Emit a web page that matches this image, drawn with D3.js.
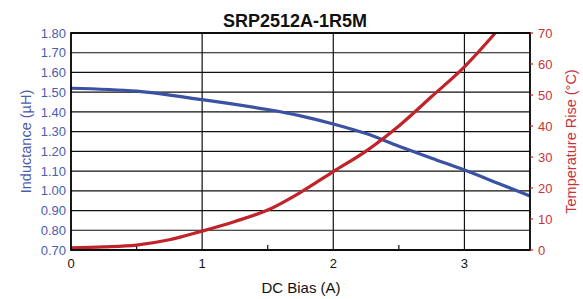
<!DOCTYPE html>
<html><head><meta charset="utf-8">
<script src="https://cdn.jsdelivr.net/npm/d3@7"></script>
<style>body{margin:0;background:#fff}svg{display:block}</style>
</head><body>
<script>
const title = "SRP2512A-1R5M";
const biasL = [0, 0.5, 1, 1.5, 1.75, 2, 2.25, 2.5, 2.75, 3, 3.25, 3.5];
const inductance = [1.52, 1.505, 1.462, 1.412, 1.38, 1.339, 1.29, 1.226, 1.165, 1.105, 1.04, 0.974];
const biasT = [0, 0.25, 0.5, 0.75, 1, 1.25, 1.5, 1.75, 2, 2.25, 2.5, 2.75, 3, 3.235];
const tempRise = [0.7, 1.0, 1.6, 3.3, 6.1, 9.2, 12.9, 18.6, 25.3, 31.9, 40.0, 49.5, 59.1, 70];
const xTicks = [0, 1, 2, 3];
const xMinor = [0.5, 1.5, 2.5];
const lTicks = [0.7,0.8,0.9,1.0,1.1,1.2,1.3,1.4,1.5,1.6,1.7,1.8];
const rTicks = [0,10,20,30,40,50,60,70];

const W = 583, H = 299;
const m = {l:71, r:530, t:33, b:250};
const font = "'Liberation Sans Narrow','Arial Narrow',Arial,sans-serif";
const blue = "#3b51a3", red = "#c1232b";
const blueTxt = "#4b5dad", redTxt = "#c8333a";

const svg = d3.select("body").append("svg").attr("width", W).attr("height", H);
const x = d3.scaleLinear().domain([0, 3.5]).range([m.l, m.r]);
const yL = d3.scaleLinear().domain([0.7, 1.8]).range([m.b, m.t]);
const yR = d3.scaleLinear().domain([0, 70]).range([m.b, m.t]);

svg.append("defs").append("clipPath").attr("id","clip")
  .append("rect").attr("x", m.l).attr("y", m.t).attr("width", m.r-m.l).attr("height", m.b-m.t);

// horizontal grid
svg.append("g").selectAll("line").data(lTicks).join("line")
  .attr("x1", m.l).attr("x2", m.r).attr("y1", d=>yL(d)).attr("y2", d=>yL(d))
  .attr("stroke", "#111").attr("stroke-width", 1.2);
// vertical grid
svg.append("g").selectAll("line").data(xTicks.slice(1)).join("line")
  .attr("x1", d=>x(d)).attr("x2", d=>x(d)).attr("y1", m.t).attr("y2", m.b)
  .attr("stroke", "#111").attr("stroke-width", 1.2);
// minor ticks
svg.append("g").selectAll("line").data(xMinor).join("line")
  .attr("x1", d=>x(d)).attr("x2", d=>x(d)).attr("y1", m.b).attr("y2", m.b-5)
  .attr("stroke", "#111").attr("stroke-width", 1.2);

// lines
const gl = svg.append("g").attr("clip-path","url(#clip)");
gl.append("path").datum(biasL.map((b,i)=>[b, inductance[i]]))
  .attr("fill","none").attr("stroke", blue).attr("stroke-width", 3.2)
  .attr("d", d3.line().x(d=>x(d[0])).y(d=>yL(d[1])).curve(d3.curveCatmullRom.alpha(0.5)));
gl.append("path").datum(biasT.map((b,i)=>[b, tempRise[i]]))
  .attr("fill","none").attr("stroke", red).attr("stroke-width", 3.2)
  .attr("d", d3.line().x(d=>x(d[0])).y(d=>yR(d[1])).curve(d3.curveCatmullRom.alpha(0.5)));

// frame
svg.append("rect").attr("x", m.l).attr("y", m.t).attr("width", m.r-m.l).attr("height", m.b-m.t)
  .attr("fill","none").attr("stroke","#000").attr("stroke-width", 1.8);

// left labels
svg.append("g").selectAll("text").data(lTicks).join("text")
  .attr("x", 66).attr("y", d=>yL(d)).attr("dy","0.36em").attr("text-anchor","end")
  .attr("fill", blueTxt).attr("font-family", font).attr("font-size", 13)
  .text(d=>d.toFixed(2));
// right ticks and labels
svg.append("g").selectAll("line").data(rTicks).join("line")
  .attr("x1", m.r).attr("x2", m.r+3).attr("y1", d=>yR(d)).attr("y2", d=>yR(d))
  .attr("stroke", red).attr("stroke-width", 1.2);
svg.append("g").selectAll("text").data(rTicks).join("text")
  .attr("x", 538).attr("y", d=>yR(d)).attr("dy","0.36em").attr("text-anchor","start")
  .attr("fill", redTxt).attr("font-family", font).attr("font-size", 13)
  .text(d=>d);
// x labels
svg.append("g").selectAll("text").data(xTicks).join("text")
  .attr("x", d=>x(d)).attr("y", 268).attr("text-anchor","middle")
  .attr("fill", "#111").attr("font-family", font).attr("font-size", 13)
  .text(d=>d);

svg.append("text").attr("x", 301).attr("y", 293).attr("text-anchor","middle")
  .attr("fill","#111").attr("font-family", font).attr("font-size", 15).text("DC Bias (A)");
svg.append("text").attr("x", 295).attr("y", 27).attr("text-anchor","middle")
  .attr("fill","#111").attr("font-family", font).attr("font-size", 18).attr("font-weight","bold").text(title);
svg.append("text").attr("transform", `translate(31,${(m.t+m.b)/2}) rotate(-90)`).attr("text-anchor","middle")
  .attr("fill", blueTxt).attr("font-family", font).attr("font-size", 14.5).text("Inductance (\u00b5H)");
svg.append("text").attr("transform", `translate(576,${(m.t+m.b)/2}) rotate(-90)`).attr("text-anchor","middle")
  .attr("fill", redTxt).attr("font-family", font).attr("font-size", 14.5).text("Temperature Rise (\u00b0C)");
</script>
</body></html>
